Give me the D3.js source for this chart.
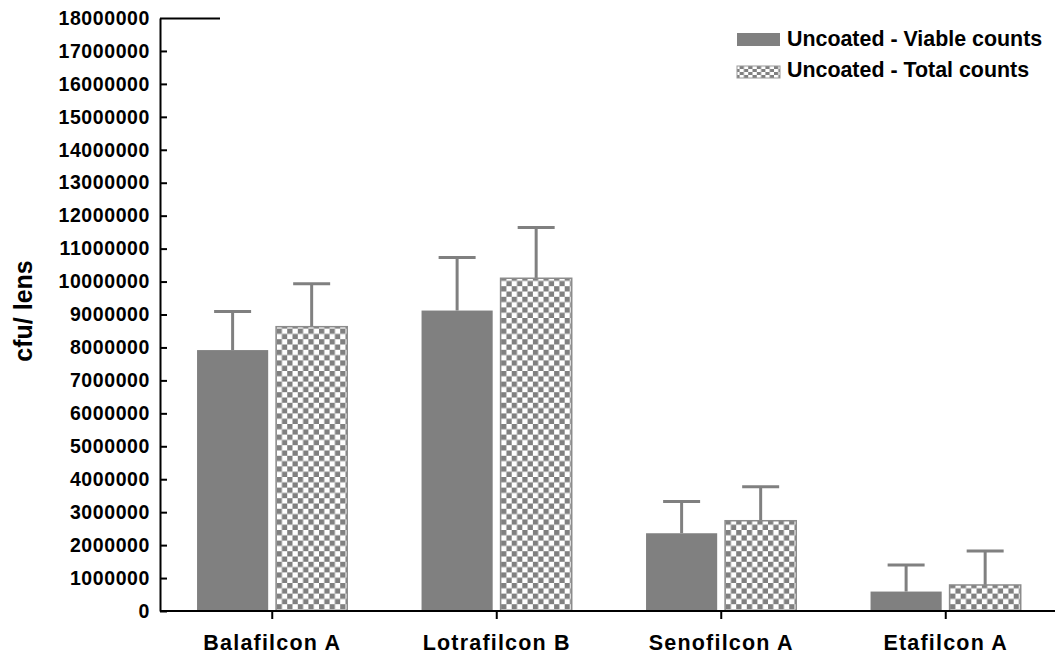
<!DOCTYPE html>
<html>
<head>
<meta charset="utf-8">
<script src="https://cdn.jsdelivr.net/npm/d3@7"></script>
<style>
  body { margin: 0; background: #fff; }
  text { font-family: "Liberation Sans", Arial, sans-serif; font-weight: bold; fill: #000; }
</style>
</head>
<body>
<div id="chart"></div>
<script>
// data
var categories = ["Balafilcon A", "Lotrafilcon B", "Senofilcon A", "Etafilcon A"];
var viable = [7920000, 9120000, 2360000, 590000];
var viableErr = [1170000, 1610000, 960000, 810000];
var total = [8630000, 10100000, 2740000, 790000];
var totalErr = [1300000, 1540000, 1030000, 1030000];
var seriesNames = ["Uncoated - Viable counts", "Uncoated - Total counts"];
var yTicks = d3.range(0, 18000001, 1000000);

var W = 1055, H = 657;
var margin = { top: 18, left: 160, bottom: 46 };
var plotBottom = H - margin.bottom;

var svg = d3.select("#chart").append("svg")
    .attr("width", W)
    .attr("height", H);

// checker pattern for total counts
var defs = svg.append("defs");
var cell = 5.3;
var pat = defs.append("pattern")
    .attr("id", "checker")
    .attr("patternUnits", "userSpaceOnUse")
    .attr("width", cell * 2)
    .attr("height", cell * 2);
pat.append("rect").attr("width", cell * 2).attr("height", cell * 2).attr("fill", "#fff");
pat.append("rect").attr("width", cell).attr("height", cell).attr("fill", "#808080");
pat.append("rect").attr("x", cell).attr("y", cell).attr("width", cell).attr("height", cell).attr("fill", "#808080");

var legPat = defs.append("pattern")
    .attr("id", "checkerLeg")
    .attr("patternUnits", "userSpaceOnUse")
    .attr("width", 8.6)
    .attr("height", 6)
    .attr("y", 66);
legPat.append("rect").attr("width", 8.6).attr("height", 6).attr("fill", "#fff");
legPat.append("rect").attr("width", 4.3).attr("height", 3).attr("fill", "#808080");
legPat.append("rect").attr("x", 4.3).attr("y", 3).attr("width", 4.3).attr("height", 3).attr("fill", "#808080");

// scales
var x = d3.scaleBand().domain(categories).range([margin.left, 1058]).padding(0);
var x1 = d3.scaleBand().domain([0, 1])
    .range([x.bandwidth() * 0.165, x.bandwidth() * 0.834])
    .paddingInner(0.1);
var y = d3.scaleLinear().domain([0, 18000000]).range([plotBottom, margin.top]);

var rows = categories.map(function (c, i) {
    return [
        { cat: c, s: 0, v: viable[i], e: viableErr[i] },
        { cat: c, s: 1, v: total[i], e: totalErr[i] }
    ];
});

var groups = svg.append("g").selectAll("g")
    .data(rows)
    .enter().append("g")
    .attr("transform", function (d, i) { return "translate(" + x(categories[i]) + ",0)"; });

var bars = groups.selectAll("g.bar")
    .data(function (d) { return d; })
    .enter().append("g")
    .attr("class", "bar");

// error bars (drawn first, bar covers the lower part)
bars.append("line")
    .attr("x1", function (d) { return x1(d.s) + x1.bandwidth() / 2; })
    .attr("x2", function (d) { return x1(d.s) + x1.bandwidth() / 2; })
    .attr("y1", function (d) { return y(d.v); })
    .attr("y2", function (d) { return y(d.v + d.e); })
    .attr("stroke", "#808080")
    .attr("stroke-width", 3);

bars.append("line")
    .attr("x1", function (d) { return x1(d.s) + x1.bandwidth() / 2 - 18.5; })
    .attr("x2", function (d) { return x1(d.s) + x1.bandwidth() / 2 + 18.5; })
    .attr("y1", function (d) { return y(d.v + d.e); })
    .attr("y2", function (d) { return y(d.v + d.e); })
    .attr("stroke", "#808080")
    .attr("stroke-width", 3);

bars.append("rect")
    .attr("x", function (d) { return x1(d.s); })
    .attr("width", x1.bandwidth())
    .attr("y", function (d) { return y(d.v); })
    .attr("height", function (d) { return plotBottom - y(d.v); })
    .attr("fill", function (d) { return d.s === 0 ? "#808080" : "url(#checker)"; })
    .attr("stroke", "#8c8c8c")
    .attr("stroke-width", function (d) { return d.s === 0 ? 0 : 1.5; });

// y axis
var yAxis = d3.axisLeft(y)
    .tickValues(yTicks)
    .tickFormat(d3.format("d"))
    .tickSizeInner(-7)
    .tickSizeOuter(0)
    .tickPadding(10);

var gy = svg.append("g")
    .attr("transform", "translate(" + margin.left + ",0)")
    .call(yAxis);
gy.select(".domain").attr("stroke", "#000").attr("stroke-width", 2);
gy.selectAll(".tick line").attr("stroke", "#000").attr("stroke-width", 2);
gy.selectAll(".tick text")
    .style("font-size", "19.5px")
    .style("letter-spacing", "0.6px")
    .attr("font-family", null)
    .attr("fill", "#000");
// top tick runs a bit longer
gy.selectAll(".tick").filter(function (d) { return d === 18000000; })
    .select("line").attr("x2", 60);

// x axis
var xAxis = d3.axisBottom(x).tickSizeInner(8).tickSizeOuter(0).tickPadding(14);
var gx = svg.append("g")
    .attr("transform", "translate(0," + plotBottom + ")")
    .call(xAxis);
gx.select(".domain").attr("d", "M" + margin.left + ",0H" + W)
    .attr("stroke", "#000").attr("stroke-width", 2);
gx.selectAll(".tick line").attr("stroke", "#000").attr("stroke-width", 2);
gx.selectAll(".tick text")
    .style("font-size", "21.5px")
    .style("letter-spacing", "1.2px")
    .attr("font-family", null)
    .attr("fill", "#000")
    .attr("dy", null)
    .attr("y", 39);

// y axis title
svg.append("text")
    .attr("transform", "translate(32," + 311 + ") rotate(-90)")
    .attr("text-anchor", "middle")
    .style("font-size", "25px")
    .text("cfu/ lens");

// legend
var legend = svg.append("g").selectAll("g")
    .data(seriesNames)
    .enter().append("g");

legend.append("rect")
    .attr("x", 737)
    .attr("y", function (d, i) { return i === 0 ? 33 : 66; })
    .attr("width", 43)
    .attr("height", function (d, i) { return i === 0 ? 13 : 12; })
    .attr("fill", function (d, i) { return i === 0 ? "#808080" : "url(#checkerLeg)"; })
    .attr("stroke", function (d, i) { return i === 0 ? "none" : "#999"; });

legend.append("text")
    .attr("x", 787)
    .attr("y", function (d, i) { return i === 0 ? 46 : 77; })
    .style("font-size", "21.4px")
    .text(function (d) { return d; });
</script>
</body>
</html>
